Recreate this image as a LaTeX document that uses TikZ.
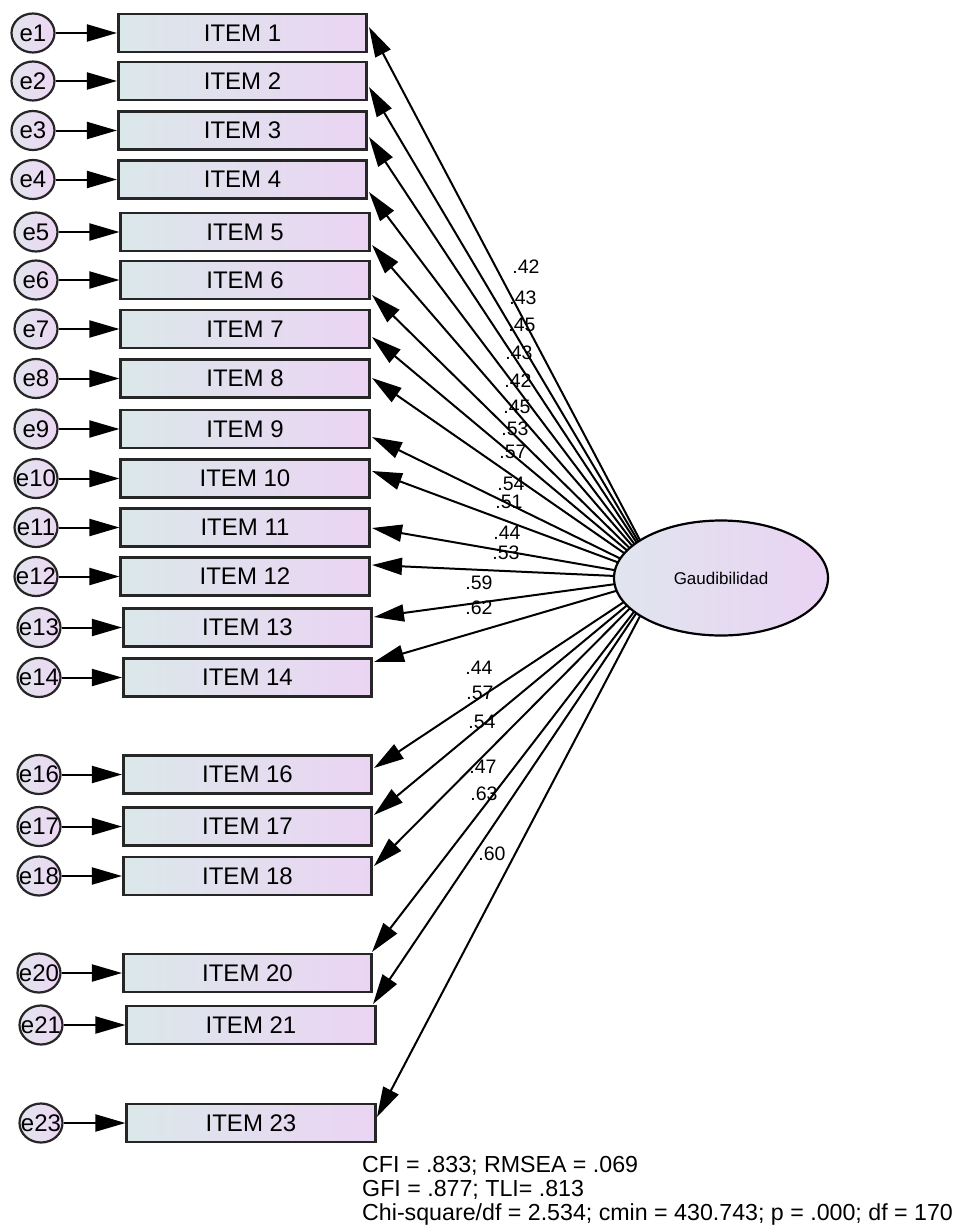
\documentclass[tikz,border=0pt]{standalone}
\usepackage{fontspec}
\setmainfont{Liberation Sans}
\usetikzlibrary{arrows.meta,shapes.geometric}
\pgfdeclarelayer{background}
\pgfsetlayers{background,main}
\definecolor{boxL}{RGB}{219,232,234}
\definecolor{boxR}{RGB}{235,212,243}
\definecolor{cirL}{RGB}{226,228,238}
\definecolor{cirR}{RGB}{237,214,243}
\definecolor{latL}{RGB}{224,229,238}
\definecolor{latR}{RGB}{234,211,243}
\begin{document}
\begin{tikzpicture}[x=1pt,y=-1pt,
  item/.style={draw=black!85, line width=2.6pt, minimum width=248.5pt, minimum height=38pt, inner sep=0pt, left color=boxL, right color=boxR, font=\fontsize{24}{28}\selectfont},
  err/.style={ellipse, draw=black!85, line width=2.2pt, minimum width=43pt, minimum height=39pt, inner sep=0pt, left color=cirL, right color=cirR, font=\fontsize{24}{28}\selectfont},
  lat/.style={ellipse, draw=black, line width=2.2pt, minimum width=214pt, minimum height=115pt, inner sep=0pt, left color=latL, right color=latR, font=\fontsize{17}{20}\selectfont},
  loadarrow/.style={line width=2pt, -{Triangle[length=30pt,width=17pt]}},
  coef/.style={font=\fontsize{19.5}{22}\selectfont, inner sep=0pt},
  fitline/.style={font=\fontsize{23.2}{24}\selectfont, anchor=base west, inner sep=0pt}
]
\useasboundingbox (0,0) rectangle (958,1231);

% latent variable
\node[lat] (g) at (721,578) {Gaudibilidad};
\coordinate (gc) at (660,578);

% items and errors
\foreach \n/\cx/\cy/\ex in {
  1/242.5/33/33, 2/242.5/81/33, 3/242.5/130.5/33, 4/242.5/179.5/33,
  5/245/232/36, 6/245/280/36, 7/245/329/36, 8/245/378.5/36,
  9/245/429/36, 10/245/478.5/36, 11/245/527.5/36, 12/245/576.5/36,
  13/247.5/627.5/39, 14/247.5/677.5/39,
  16/247.5/774.5/39, 17/247.5/826.5/39, 18/247.5/876/39,
  20/247.5/973/39, 21/251/1025/41, 23/251/1123/41}{
  \node[item] (i\n) at (\cx,\cy) {ITEM \n};
  \node[err] (e\n) at (\ex,\cy) {\makebox[0pt]{e\n}};
  \draw[loadarrow] (e\n) -- (i\n);
}

% arrow tips on the items
\foreach \n/\tx/\ty in {
  1/369/27, 2/369/87, 3/369/137, 4/369/192,
  5/372/245, 6/372/295, 7/372/337, 8/372/378,
  9/372/437, 10/372/471, 11/372/528, 12/372/565,
  13/374/617, 14/374/662, 16/374/768, 17/374/815, 18/374/866,
  20/372/952, 21/373/1004, 23/377/1117}{
  \coordinate (t\n) at (\tx,\ty);
  \begin{pgfonlayer}{background}
    \draw[loadarrow] (gc) -- (t\n);
  \end{pgfonlayer}
}

% coefficients
\foreach \v/\lx/\ly [count=\k] in {
  .42/526/267, .43/523/298, .45/522/325, .43/519/353, .42/518/381,
  .45/517/407, .53/515/429, .57/513/452, .54/511/484, .51/509/502,
  .44/507/533, .53/506/553, .59/479/583, .62/479/608,
  .44/479/668, .57/480/693, .54/482/722, .47/483/767, .63/484/794, .60/492/854}{
  \node[coef] (c\k) at (\lx,\ly) {\v};
}

% fit indices
\node[fitline] (f1) at (362,1172) {CFI = .833; RMSEA = .069};
\node[fitline] (f2) at (362,1196) {GFI = .877; TLI= .813};
\node[fitline] (f3) at (362,1220) {Chi-square/df = 2.534; cmin = 430.743; p = .000; df = 170};
\end{tikzpicture}
\end{document}
